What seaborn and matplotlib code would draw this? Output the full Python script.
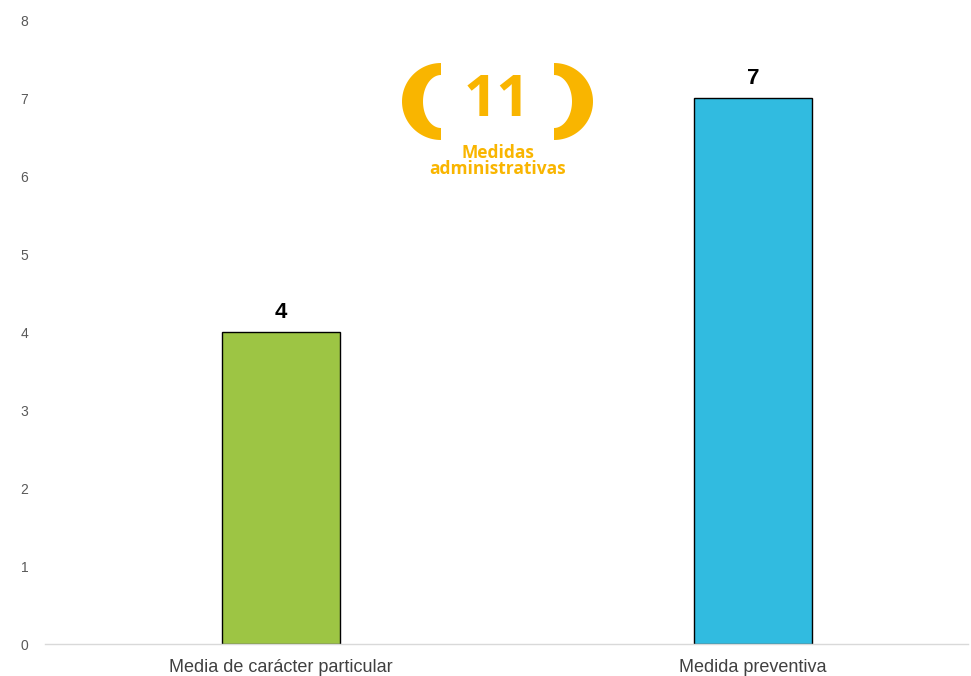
import numpy as np
import pandas as pd
import seaborn as sns
import matplotlib.pyplot as plt
from matplotlib.patches import Polygon

categories = ["Media de carácter particular", "Medida preventiva"]
values = [4, 7]
bar_colors = ["#9DC544", "#31BBE0"]
total_label = "11"
total_caption = "Medidas\nadministrativas"
logo_color = "#F9B500"


def bar_chart(df, fig):
    ax = fig.add_axes([45 / 971, 1 - 644 / 676, 923 / 971, 624 / 676])
    sns.barplot(
        data=df, x="categoria", y="valor", hue="categoria",
        palette=bar_colors, saturation=1, width=0.25, edgecolor="black",
        linewidth=1, legend=False, ax=ax
    )
    for patch, v in zip(ax.patches, df["valor"]):
        ax.text(patch.get_x() + patch.get_width() / 2, v + 0.12, str(v),
                ha="center", va="bottom", fontsize=16, fontweight="bold",
                color="black")
    ax.set_ylim(0, 8)
    ax.set_xlim(-0.5, 1.455)
    ax.set_yticks(range(0, 9))
    ax.set_xlabel("")
    ax.set_ylabel("")
    ax.tick_params(axis="y", length=0, pad=12, labelsize=10, labelcolor="#595959")
    ax.tick_params(axis="x", length=0, pad=11, labelsize=13, labelcolor="#404040")
    for side in ["top", "right", "left"]:
        ax.spines[side].set_visible(False)
    ax.spines["bottom"].set_color("#D9D9D9")
    ax.spines["bottom"].set_linewidth(1)
    ax.grid(False)
    return ax


def bracket(cx, cy, side):
    # outer circular edge, flatter elliptical inner edge
    t = np.linspace(-np.pi / 2, np.pi / 2, 60)
    ox = cx + side * 39 * np.cos(t)
    oy = cy + 38.5 * np.sin(t)
    ix = cx + side * 18 * np.cos(t[::-1])
    iy = cy + 26.5 * np.sin(t[::-1])
    return Polygon(np.column_stack([np.r_[ox, ix], np.r_[oy, iy]]),
                   closed=True, color=logo_color, lw=0)


def logo(fig):
    lx = fig.add_axes([390 / 971, 1 - 190 / 676, 220 / 971, 140 / 676])
    lx.set_xlim(390, 610)
    lx.set_ylim(190, 50)
    lx.axis("off")
    lx.add_patch(bracket(441, 101.5, -1))
    lx.add_patch(bracket(554, 101.5, 1))
    lx.text(497, 101, total_label, ha="center", va="center", fontsize=42,
            fontweight="bold", color=logo_color, family="Open Sans")
    lx.text(498, 161, total_caption, ha="center", va="center", fontsize=12.5,
            fontweight="bold", color=logo_color, family="Open Sans",
            linespacing=0.92)


def main():
    df = pd.DataFrame({"categoria": categories, "valor": values})
    fig = plt.figure(figsize=(9.71, 6.76), dpi=100)
    bar_chart(df, fig)
    logo(fig)
    fig.savefig("out.png", dpi=100)


if __name__ == "__main__":
    sns.set_theme(style="white")
    plt.rcParams["font.family"] = ["Liberation Sans", "DejaVu Sans"]
    main()
